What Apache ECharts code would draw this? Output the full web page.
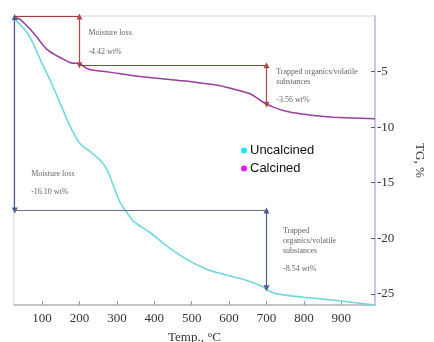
<!DOCTYPE html>
<html>
<head>
<meta charset="utf-8">
<script src="https://cdn.jsdelivr.net/npm/echarts@6/dist/echarts.min.js"></script>
<style>
  html, body { margin: 0; padding: 0; background: #fff; }
  #tg-chart { width: 434px; height: 342px; }
</style>
</head>
<body>
<div id="tg-chart"></div>
<script>
// temperature ticks and TG ticks
const tempTicks = [100, 200, 300, 400, 500, 600, 700, 800, 900];
const tgTicks = [-5, -10, -15, -20, -25];

// uncalcined curve
const uncalT = [25, 29, 45, 60, 78, 95, 122, 149, 176, 202, 229, 256, 274, 291, 309, 327, 344, 389, 434, 487, 541, 576, 647, 683, 705, 727, 799, 888, 990];
const uncalV = [0, -0.33, -0.9, -1.5, -2.6, -3.9, -5.8, -7.9, -10.0, -11.5, -12.2, -13.0, -13.85, -15.3, -16.8, -17.7, -18.45, -19.5, -20.7, -21.9, -22.8, -23.15, -23.8, -24.25, -24.7, -25.0, -25.3, -25.6, -26.0];

// calcined curve
const calT = [25, 29, 42, 60, 77, 95, 113, 135, 158, 176, 202, 224, 280, 344, 420, 478, 523, 576, 611, 656, 691, 718, 750, 790, 840, 878, 990];
const calV = [0, -0.12, -0.33, -0.9, -1.52, -2.3, -3.0, -3.5, -3.9, -4.2, -4.34, -4.79, -5.05, -5.38, -5.65, -5.83, -6.03, -6.27, -6.57, -7.0, -7.76, -8.2, -8.55, -8.8, -9.0, -9.1, -9.24];

// annotation lines: [fromT, fromV, toT, toV, arrow?]
const calLines = [
  [25, -0.05, 200, -0.05, 0],
  [200, -0.05, 200, -4.42, 1],
  [200, -4.42, 700, -4.42, 0],
  [700, -4.42, 700, -7.98, 1]
];
const uncalLines = [
  [27, -0.1, 27, -17.5, 1],
  [25, -17.5, 700, -17.5, 0],
  [700, -17.5, 700, -24.5, 1]
];

// annotation texts
const noteText = ['Moisture loss', '-4.42 wt%', 'Trapped organics/volatile', 'substances', '-3.56 wt%',
  'Moisture loss', '-16.10 wt%', 'Trapped', 'organics/volatile', 'substances', '-8.54 wt%'];
const noteT = [224, 224, 726, 726, 726, 71, 71, 744, 744, 744, 744];
const noteV = [-1.55, -3.24, -5.0, -5.92, -7.52, -14.2, -15.8, -19.35, -20.27, -21.16, -22.77];

const serif = '"Liberation Serif", "DejaVu Serif", serif';

function toMarkLines(list, arrowColor, lineColor) {
  return list.map(l => [
    {
      coord: [l[0], l[1]],
      symbol: l[4] ? 'triangle' : 'none',
      symbolSize: l[4] ? [6, 6] : 0,
      lineStyle: { color: l[4] ? arrowColor : lineColor }
    },
    {
      coord: [l[2], l[3]],
      symbol: l[4] ? 'triangle' : 'none',
      symbolSize: l[4] ? [6, 6] : 0
    }
  ]);
}

const chart = echarts.init(document.getElementById('tg-chart'));
chart.setOption({
  animation: false,
  grid: {
    left: 14, right: 59, top: 16, bottom: 37,
    outerBoundsMode: 'none',
    show: true, borderColor: '#d4d4dc', borderWidth: 1
  },
  legend: {
    data: [
      { name: 'Uncalcined', itemStyle: { color: '#1ee6f2' } },
      { name: 'Calcined', itemStyle: { color: '#ee14ee' } }
    ],
    orient: 'vertical',
    left: 236, top: 139,
    icon: 'circle',
    itemWidth: 6, itemHeight: 6, itemGap: 5,
    textStyle: { fontFamily: '"Liberation Sans", Arial, sans-serif', fontSize: 13, color: '#111', padding: [0, 0, 0, -2] }
  },
  xAxis: {
    type: 'value',
    min: 25, max: 990,
    name: 'Temp., °C',
    nameLocation: 'middle',
    nameGap: 26,
    nameTextStyle: { fontFamily: serif, fontSize: 13, color: '#333' },
    splitLine: { show: false },
    axisLine: { onZero: false, lineStyle: { color: '#b8b8bc', width: 1.5 } },
    axisTick: { inside: true, length: 4, customValues: tempTicks, lineStyle: { color: '#999' } },
    axisLabel: { customValues: tempTicks, fontFamily: serif, fontSize: 13, color: '#333', margin: 7 }
  },
  yAxis: {
    type: 'value',
    position: 'right',
    min: -26, max: 0,
    name: 'TG, %',
    nameLocation: 'middle',
    nameGap: 38,
    nameRotate: -90,
    nameTextStyle: { fontFamily: serif, fontSize: 13, color: '#333' },
    splitLine: { show: false },
    axisLine: { show: true, onZero: false, lineStyle: { color: '#c8c8e4', width: 2 } },
    axisTick: { inside: true, length: 4, customValues: tgTicks, lineStyle: { color: '#55559a' } },
    axisLabel: { customValues: tgTicks, fontFamily: serif, fontSize: 13, color: '#333', margin: 2 }
  },
  series: [
    {
      name: 'Uncalcined',
      type: 'line',
      smooth: 0.3,
      symbol: 'none',
      lineStyle: { color: '#6fd8dc', width: 1.6 },
      itemStyle: { color: '#6fd8dc' },
      data: uncalT.map((t, i) => [t, uncalV[i]]),
      markLine: {
        silent: true,
        label: { show: false },
        lineStyle: { type: 'solid', width: 1.2, color: '#2f3f8e' },
        itemStyle: { color: '#2f3f8e' },
        data: toMarkLines(uncalLines, '#4a5a94', '#66708e')
      }
    },
    {
      name: 'Calcined',
      type: 'line',
      smooth: 0.3,
      symbol: 'none',
      lineStyle: { color: '#9b3d9f', width: 1.5 },
      itemStyle: { color: '#9b3d9f' },
      data: calT.map((t, i) => [t, calV[i]]),
      markLine: {
        silent: true,
        label: { show: false },
        lineStyle: { type: 'solid', width: 1.2, color: '#a83a3a' },
        itemStyle: { color: '#c01818' },
        data: toMarkLines(calLines, '#a84a4a', '#a83a3a')
      }
    },
    {
      name: 'notes',
      type: 'scatter',
      symbolSize: 0,
      silent: true,
      data: noteText.map((s, i) => [noteT[i], noteV[i], s]),
      label: {
        show: true,
        position: 'right',
        distance: 0,
        formatter: p => p.data[2],
        fontFamily: serif,
        fontSize: 8,
        color: '#3a3a3a'
      }
    }
  ]
});
</script>
</body>
</html>
